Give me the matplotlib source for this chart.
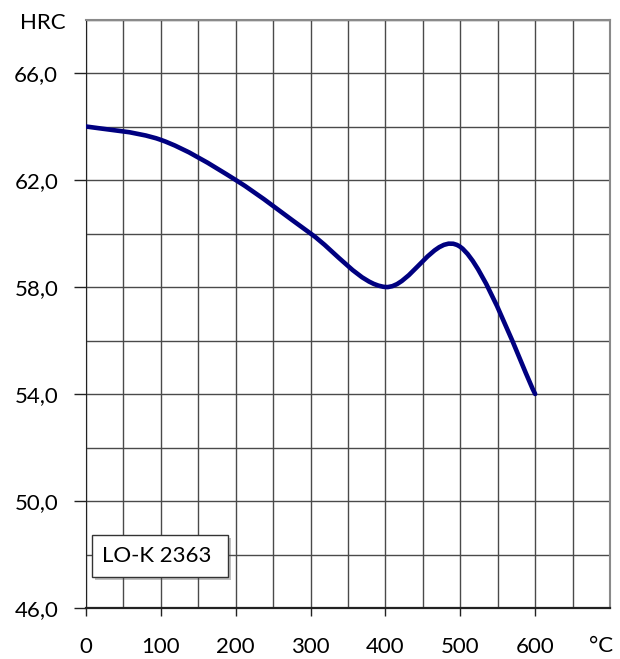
import matplotlib.pyplot as plt
import matplotlib.patheffects as pe
from matplotlib.path import Path
from matplotlib.patches import PathPatch, Rectangle
import numpy as np

plt.rcParams['font.family'] = ['Lato', 'DejaVu Sans']

# values
temp = [0, 100, 200, 300, 400, 500, 600]
hrc = [64.0, 63.5, 62.0, 60.0, 58.0, 59.5, 54.0]

x_ticks = [0, 100, 200, 300, 400, 500, 600]
y_ticks = [46, 50, 54, 58, 62, 66]
y_labels = ['46,0', '50,0', '54,0', '58,0', '62,0', '66,0']
label = 'LO-K 2363'


def smooth_path(xs, ys):
    # Bezier through the points, like a spreadsheet's smoothed line
    pts = np.column_stack([xs, ys]).astype(float)
    verts = [pts[0]]
    codes = [Path.MOVETO]
    n = len(pts)
    for i in range(n - 1):
        p0 = pts[max(i - 1, 0)]
        p1 = pts[i]
        p2 = pts[i + 1]
        p3 = pts[min(i + 2, n - 1)]
        c1 = p1 + (p2 - p0) / 6
        c2 = p2 - (p3 - p1) / 6
        verts += [c1, c2, p2]
        codes += [Path.CURVE4] * 3
    return Path(verts, codes)


fig = plt.figure(figsize=(6.2, 6.59), dpi=100)
ax = fig.add_axes([86 / 620, 1 - 608 / 659, 524 / 620, 588.5 / 659])

ax.set_xlim(0, 700)
ax.set_ylim(46, 68)

ax.set_xticks(np.arange(0, 701, 50), minor=True)
ax.set_yticks(np.arange(46, 69, 2), minor=True)
ax.grid(which='both', color='#4a4a4a', linewidth=1.0)
ax.set_axisbelow(True)

ax.set_xticks(x_ticks)
ax.set_yticks(y_ticks)
ax.set_yticklabels(y_labels)
ax.tick_params(which='minor', length=0)
ax.tick_params(axis='y', which='major', length=9, width=1, pad=11, labelsize=16, color='#222222')
ax.tick_params(axis='x', which='major', length=6, width=1, pad=15, labelsize=16, color='#222222')

for side in ['top', 'right']:
    ax.spines[side].set_color('#8a8a8a')
    ax.spines[side].set_linewidth(1.5)
ax.spines['right'].set_path_effects([pe.SimplePatchShadow(offset=(2, -1), alpha=0.4), pe.Normal()])
ax.spines['left'].set_color('#222222')
ax.spines['bottom'].set_color('#222222')
ax.spines['bottom'].set_linewidth(1.6)

curve = PathPatch(smooth_path(temp, hrc), facecolor='none', edgecolor='#000080',
                  linewidth=3.3, capstyle='round', joinstyle='round', zorder=3)
ax.add_patch(curve)

fig.text(43 / 620, 1 - 23 / 659, 'HRC', fontsize=16, ha='center', va='center')
fig.text(601 / 620, 1 - 646 / 659, '°C', fontsize=16, ha='center', va='center')

box = Rectangle((6 / 524, 31 / 588.5), 136 / 524, 42 / 588.5, transform=ax.transAxes,
                facecolor='white', edgecolor='#333333', linewidth=1, zorder=5)
box.set_path_effects([pe.SimplePatchShadow(offset=(2, -2), alpha=0.35), pe.Normal()])
ax.add_patch(box)
ax.text(16 / 524, 52 / 588.5, label, fontsize=16, ha='left', va='center',
        transform=ax.transAxes, zorder=6)

fig.savefig('out.png', dpi=100)
